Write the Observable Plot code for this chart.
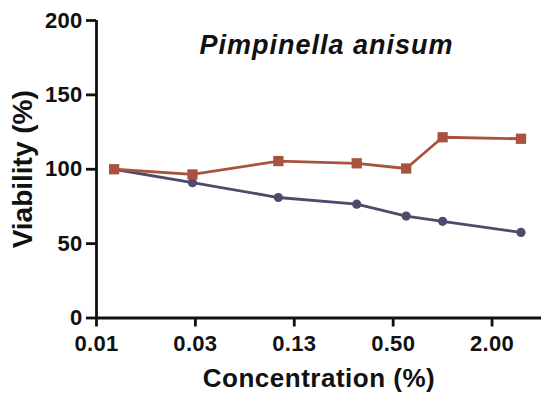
<!DOCTYPE html>
<html>
<head>
<meta charset="utf-8">
<script src="https://cdn.jsdelivr.net/npm/d3@7"></script>
<script src="https://cdn.jsdelivr.net/npm/@observablehq/plot@0.6"></script>
<style>
  html, body { margin: 0; padding: 0; background: #fff; }
</style>
</head>
<body>
<div id="chart"></div>
<script>
// ---- data ----
const titleText = "Pimpinella anisum";
const xLabel = "Concentration (%)";
const yLabel = "Viability (%)";
const concentrations = [0.01, 0.03, 0.1, 0.3, 0.6, 1, 3];
const seriesSquares = [100, 96.5, 105.5, 104, 100.5, 121.5, 120.5];
const seriesCircles = [100, 91, 81, 76.5, 68.5, 65, 57.5];
const xTicks = [0.0078125, 0.03125, 0.125, 0.5, 2];
const xTickLabels = ["0.01", "0.03", "0.13", "0.50", "2.00"];
const xDomain = [0.0078125, 4];
const yTicks = [0, 50, 100, 150, 200];
const yDomain = [0, 200];

const colorSquares = "#a8533e";
const colorCircles = "#4e4a6c";

const sq = concentrations.map((c, i) => ({c, v: seriesSquares[i]}));
const ci = concentrations.map((c, i) => ({c, v: seriesCircles[i]}));
const labelMap = new Map(xTicks.map((t, i) => [t, xTickLabels[i]]));

const plot = Plot.plot({
  width: 541,
  height: 395,
  marginLeft: 96,
  marginRight: 0,
  marginTop: 20,
  marginBottom: 77.5,
  style: {fontFamily: "'Liberation Sans', Arial, sans-serif", fontWeight: "bold", fontSize: "22px", color: "#111", background: "#fff", letterSpacing: "0.3px"},
  x: {type: "log", base: 4, domain: xDomain},
  y: {domain: yDomain},
  marks: [
    Plot.axisY({ticks: yTicks, tickSize: 10, tickPadding: 4, fontSize: 22, strokeWidth: 2.8, stroke: "#111", label: null}),
    Plot.axisX({ticks: xTicks, tickSize: 9, tickPadding: 8, fontSize: 22, strokeWidth: 2.8, stroke: "#111", tickFormat: d => labelMap.get(d), label: null}),
    Plot.ruleX([xDomain[0]], {stroke: "#111", strokeWidth: 2.8}),
    Plot.ruleY([yDomain[0]], {stroke: "#111", strokeWidth: 2.8}),
    Plot.line(ci, {x: "c", y: "v", stroke: colorCircles, strokeWidth: 2.8}),
    Plot.dot(ci, {x: "c", y: "v", fill: colorCircles, r: 4.6, symbol: "circle"}),
    Plot.line(sq, {x: "c", y: "v", stroke: colorSquares, strokeWidth: 2.8}),
    Plot.dot(sq, {x: "c", y: "v", fill: colorSquares, r: 5.8, symbol: "square"}),
    Plot.text([titleText], {frameAnchor: "top", lineAnchor: "top", textAnchor: "middle", dx: 7.5, dy: 14, fontSize: 27, fontStyle: "italic", fontWeight: "bold", fill: "#111"}),
    Plot.text([xLabel], {frameAnchor: "bottom", lineAnchor: "bottom", textAnchor: "middle", dy: 68.5, fontSize: 26, fontWeight: "bold", fill: "#111"}),
    Plot.text([yLabel], {frameAnchor: "left", lineAnchor: "bottom", textAnchor: "middle", rotate: -90, dx: -65, fontSize: 28, fontWeight: "bold", fill: "#111"})
  ]
});

d3.select(plot).selectAll("text").each(function() {
  const t = this.textContent;
  if (t === titleText) d3.select(this).attr("letter-spacing", "1px");
  else if (t === yLabel) d3.select(this).attr("letter-spacing", "0px");
  else if (t === xLabel) d3.select(this).attr("letter-spacing", "0.5px");
});

document.getElementById("chart").appendChild(plot);
</script>
</body>
</html>
